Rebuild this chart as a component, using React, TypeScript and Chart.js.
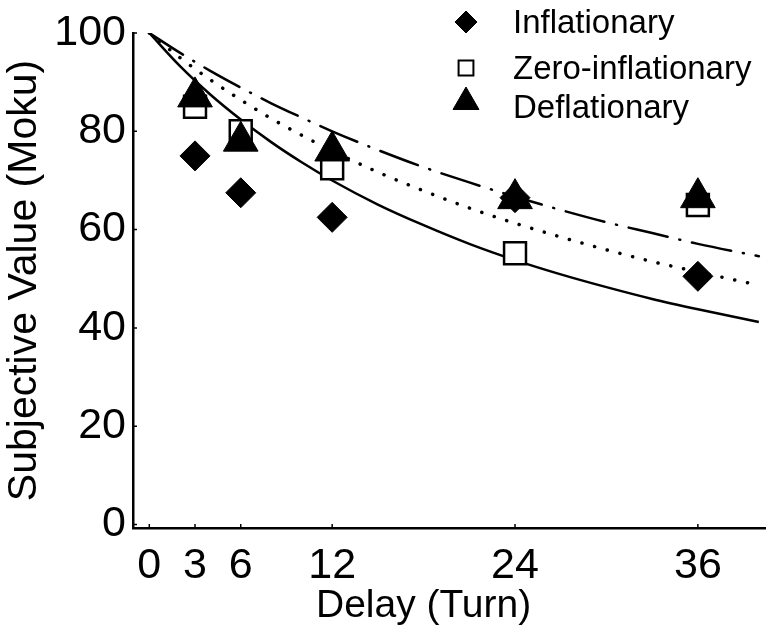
import React, { useEffect, useRef } from 'react';
import { Chart, registerables } from 'chart.js';
import { drawPoint } from 'chart.js/helpers';

Chart.register(...registerables);

// Observed points
const delays = [3, 6, 12, 24, 36];
const inflationary = [75, 67.5, 62.5, 66.5, 50.5];
const zeroInflationary = [85, 80, 72.5, 55.2, 65];
const deflationary = [87, 78, 76, 66.3, 66.5];

// Fitted curves
const curveDelays = [0, 2, 4, 6, 8, 10, 12, 15, 18, 21, 24, 27, 30, 33, 36, 40];
const curveSolid = [100, 93.3, 87.5, 82.4, 77.8, 73.7, 70, 65.1, 60.9, 57.1, 53.8, 50.9, 48.3, 45.9, 43.8, 41.2];
const curveDotted = [100, 95, 90.5, 86.4, 82.6, 79.2, 76, 71.7, 67.9, 64.4, 61.3, 58.5, 55.9, 53.5, 51.4, 48.7];
const curveDashDot = [100, 96, 92.3, 88.9, 85.7, 82.8, 80, 76.2, 72.7, 69.6, 66.7, 64, 61.5, 59.3, 57.1, 54.6];

const xTicks = [0, 3, 6, 12, 24, 36];
const yTicks = [0, 20, 40, 60, 80, 100];
const xTitle = 'Delay (Turn)';
const yTitle = 'Subjective Value (Moku)';
const legendLabels = ['Inflationary', 'Zero-inflationary', 'Deflationary'];

const FONT = "'Liberation Sans', Arial, Helvetica, sans-serif";

const toXY = (xs: number[], ys: number[]) => xs.map((x, i) => ({ x, y: ys[i] }));

const innerTicks = {
  id: 'innerTicks',
  afterDraw(chart: any) {
    const { ctx, scales } = chart;
    const xs = scales.x;
    const ys = scales.y;
    ctx.save();
    ctx.strokeStyle = '#000';
    ctx.lineWidth = 1.5;
    ctx.beginPath();
    xTicks.forEach((v) => {
      const px = xs.getPixelForValue(v);
      ctx.moveTo(px, xs.top);
      ctx.lineTo(px, xs.top - 4);
    });
    yTicks.forEach((v) => {
      const py = ys.getPixelForValue(v);
      ctx.moveTo(ys.right, py);
      ctx.lineTo(ys.right + 4, py);
    });
    ctx.stroke();
    ctx.restore();
  },
};

const xTitlePlugin = {
  id: 'xTitlePlugin',
  afterDraw(chart: any) {
    const { ctx, scales } = chart;
    const xs = scales.x;
    ctx.save();
    ctx.fillStyle = '#000';
    ctx.font = `39px ${FONT}`;
    ctx.textAlign = 'center';
    ctx.textBaseline = 'middle';
    const cx = xs.getPixelForValue((xTicks[0] + xTicks[xTicks.length - 1]) / 2);
    ctx.fillText(xTitle, cx, xs.top + 78);
    ctx.restore();
  },
};

const legendPlugin = {
  id: 'customLegend',
  afterDraw(chart: any) {
    const { ctx } = chart;
    const rows = [
      { ds: 2, y: 22, r: 11 },
      { ds: 1, y: 68, r: 10.5 },
      { ds: 0, y: 102, r: 15 },
    ];
    ctx.save();
    rows.forEach((row, i) => {
      const ds = chart.data.datasets[row.ds];
      ctx.fillStyle = ds.backgroundColor;
      ctx.strokeStyle = ds.borderColor;
      ctx.lineWidth = row.ds === 1 ? 2 : 1;
      drawPoint(ctx, { pointStyle: ds.pointStyle, radius: row.r, borderWidth: ctx.lineWidth, rotation: 0 }, 466, row.y);
      ctx.fillStyle = '#000';
      ctx.font = `33px ${FONT}`;
      ctx.textAlign = 'left';
      ctx.textBaseline = 'middle';
      ctx.fillText(legendLabels[i], 513, i === 2 ? 109 : row.y + 2);
    });
    ctx.restore();
  },
};

export default function App() {
  const ref = useRef<HTMLCanvasElement | null>(null);
  useEffect(() => {
    if (!ref.current) return;
    const chart = new Chart(ref.current, {
      type: 'scatter',
      data: {
        datasets: [
          {
            label: 'Deflationary',
            data: toXY(delays, deflationary),
            pointStyle: 'triangle',
            pointRadius: 20,
            backgroundColor: '#000',
            borderColor: '#000',
            borderWidth: 1,
            order: 0,
          },
          {
            label: 'Zero-inflationary',
            data: toXY(delays, zeroInflationary),
            pointStyle: 'rect',
            pointRadius: 15.5,
            backgroundColor: '#fff',
            borderColor: '#000',
            borderWidth: 2.5,
            order: 1,
          },
          {
            label: 'Inflationary',
            data: toXY(delays, inflationary),
            pointStyle: 'rectRot',
            pointRadius: 15,
            backgroundColor: '#000',
            borderColor: '#000',
            borderWidth: 1,
            order: 2,
          },
          {
            label: 'Inflationary fit',
            data: toXY(curveDelays, curveSolid),
            showLine: true,
            pointRadius: 0,
            borderColor: '#000',
            borderWidth: 2.5,
            cubicInterpolationMode: 'monotone',
            order: 3,
          },
          {
            label: 'Zero-inflationary fit',
            data: toXY(curveDelays, curveDotted),
            showLine: true,
            pointRadius: 0,
            borderColor: '#000',
            borderWidth: 3.5,
            borderDash: [0.1, 13],
            borderCapStyle: 'round',
            cubicInterpolationMode: 'monotone',
            order: 3,
          },
          {
            label: 'Deflationary fit',
            data: toXY(curveDelays, curveDashDot),
            showLine: true,
            pointRadius: 0,
            borderColor: '#000',
            borderWidth: 2.5,
            borderDash: [40, 12, 1, 12],
            borderCapStyle: 'round',
            cubicInterpolationMode: 'monotone',
            order: 3,
          },
        ],
      },
      options: {
        animation: false,
        responsive: false,
        maintainAspectRatio: false,
        layout: { autoPadding: false, padding: { top: 33, right: 0, left: 0, bottom: 0 } },
        plugins: {
          legend: { display: false },
          tooltip: { enabled: false },
        },
        scales: {
          x: {
            type: 'linear',
            min: -1.07,
            max: 40.47,
            afterBuildTicks: (s: any) => {
              s.ticks = xTicks.map((v) => ({ value: v }));
            },
            afterFit: (s: any) => {
              s.height = 108;
              s.paddingLeft = 0;
              s.paddingRight = 0;
            },
            grid: { display: false, drawTicks: false },
            border: { display: true, color: '#000', width: 2.5 },
            ticks: {
              color: '#000',
              padding: 12,
              font: { family: FONT, size: 43 },
              maxRotation: 0,
              autoSkip: false,
            },
            title: { display: false },
          },
          y: {
            type: 'linear',
            min: -0.7,
            max: 100,
            afterBuildTicks: (s: any) => {
              s.ticks = yTicks.map((v) => ({ value: v }));
            },
            afterFit: (s: any) => {
              s.width = 133;
              s.paddingTop = 0;
              s.paddingBottom = 0;
            },
            grid: { display: false, drawTicks: false },
            border: { display: true, color: '#000', width: 2.5 },
            ticks: {
              color: '#000',
              padding: 7,
              font: { family: FONT, size: 43 },
              autoSkip: false,
            },
            title: {
              display: true,
              text: yTitle,
              color: '#000',
              padding: 0,
              font: { family: FONT, size: 41 },
            },
          },
        },
      },
      plugins: [innerTicks, xTitlePlugin, legendPlugin],
    });
    return () => chart.destroy();
  }, []);
  return (
    <div style={{ position: 'fixed', left: 0, top: 0, width: 766, height: 636, background: '#fff' }}>
      <canvas ref={ref} width={766} height={636} style={{ width: 766, height: 636 }} />
    </div>
  );
}
